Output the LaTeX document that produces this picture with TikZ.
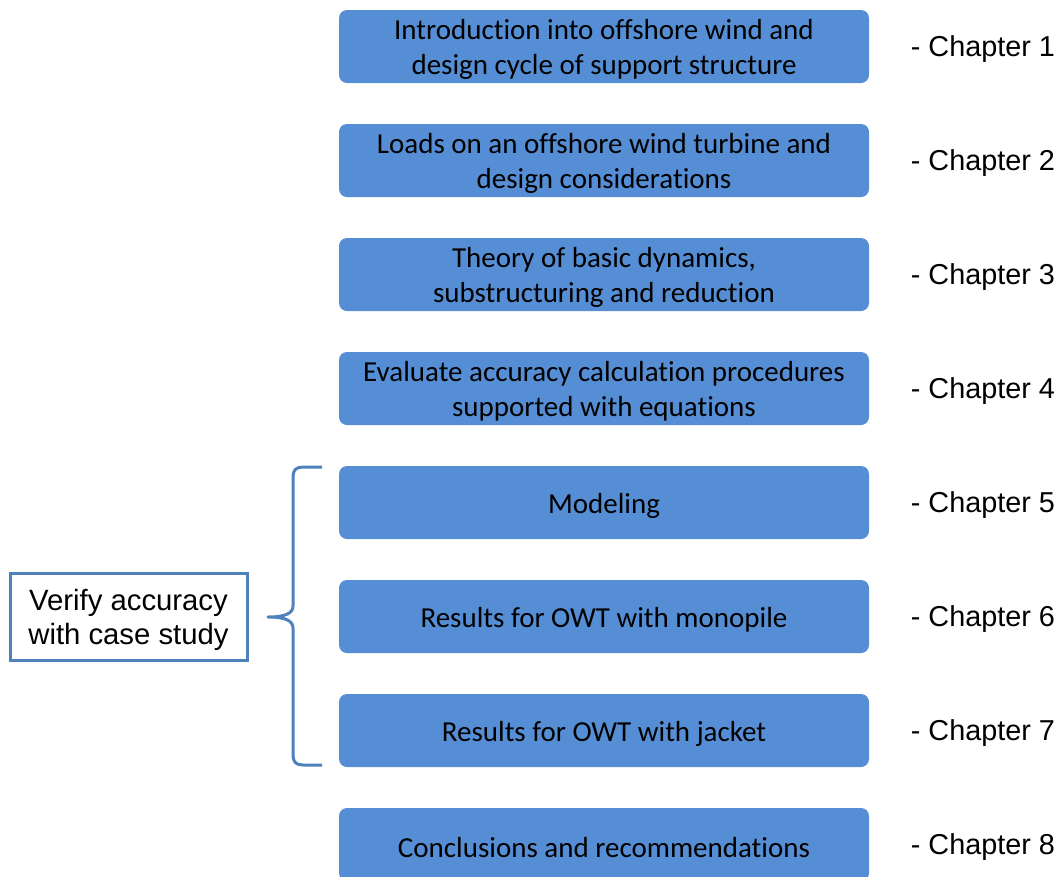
\documentclass[tikz,border=0pt]{standalone}
\usepackage{fontspec}
\setmainfont{Liberation Sans}
\newfontfamily\boxfont[Ligatures=NoCommon]{Carlito}
\definecolor{boxblue}{HTML}{558ED5}
\definecolor{lineblue}{HTML}{4F81BD}
\begin{document}
\begin{tikzpicture}[x=1pt,y=-1pt,
  chapbox/.style={fill=boxblue, draw=none, rounded corners=8pt,
    minimum width=530pt, minimum height=73pt, inner sep=0pt},
  boxtext/.style={inner sep=0pt, align=center,
    font=\boxfont\fontsize{29}{35}\selectfont},
  chaplabel/.style={anchor=base west, inner sep=0pt,
    font=\fontsize{28.8}{34}\selectfont},
  sidebox/.style={draw=lineblue, line width=3pt, fill=white,
    minimum width=237pt, minimum height=87pt, inner sep=0pt},
  sidetext/.style={inner sep=0pt, align=center,
    font=\fontsize{29.3}{34}\selectfont}]
\useasboundingbox (0,0) rectangle (1057,876);

% chapter boxes
\foreach \i/\y in {1/46.5,2/160.5,3/274.5,4/388.5,5/502.5,6/616.5,7/730.5,8/844.5}{
  \node[chapbox] (c\i) at (604,\y) {};
  \node[chaplabel] (l\i) at ([xshift=41.5pt,yshift=-10pt]c\i.east) {- Chapter \i};
}

\node[boxtext] (t1) at ([yshift=-3pt]c1.center) {Introduction into offshore wind and\\design cycle of support structure};
\node[boxtext] (t2) at ([yshift=-3pt]c2.center) {Loads on an offshore wind turbine and\\design considerations};
\node[boxtext] (t3) at ([yshift=-3pt]c3.center) {Theory of basic dynamics,\\substructuring and reduction};
\node[boxtext] (t4) at ([yshift=-3pt]c4.center) {Evaluate accuracy calculation procedures\\supported with equations};
\node[boxtext] (t5) at ([yshift=-3pt]c5.center) {Modeling};
\node[boxtext] (t6) at ([yshift=-3pt]c6.center) {Results for OWT with monopile};
\node[boxtext] (t7) at ([yshift=-3pt]c7.center) {Results for OWT with jacket};
\node[boxtext] (t8) at ([yshift=-3pt]c8.center) {Conclusions and recommendations};

% side box
\node[sidebox] (verify) at (128.5,616.5) {};
\node[sidetext] (vtext) at ([yshift=-3pt]verify.center) {Verify accuracy\\with case study};

% curly brace grouping the case-study chapters
\coordinate (btop) at (322,467);
\coordinate (bbot) at (322,765);
\coordinate (btip) at (268,617);
\draw[lineblue, line width=3pt, line join=round]
  (btop) -- (303,467) .. controls (296,467) and (293,470) .. (293,477)
  -- (293,606) .. controls (293,613) and (286,617) .. (btip)
  .. controls (286,617) and (293,621) .. (293,628)
  -- (293,755) .. controls (293,762) and (296,765) .. (303,765) -- (bbot);
\end{tikzpicture}
\end{document}
